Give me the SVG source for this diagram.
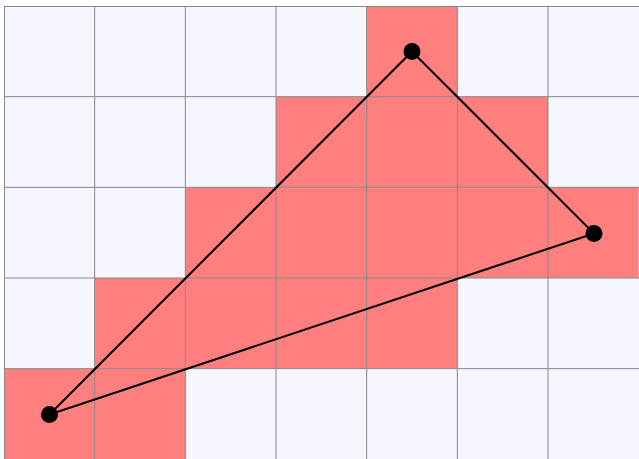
<svg xmlns="http://www.w3.org/2000/svg" width="639" height="459" viewBox="0 0 639 459">
<style>
.bg{fill:#f5f7ff}
.on{fill:#ff7f7f}
.grid{stroke:#888;stroke-width:1;fill:none}
.edge{stroke:#000;stroke-width:2;fill:none}
.pt{fill:#000}
</style>
<rect x="0" y="0" width="639" height="459" fill="#fff"/>
<rect class="bg" x="4" y="6" width="640" height="460"/>
<g id="cells">
<rect class="on" x="366.67" y="6" width="90.67" height="90.67"/>
<rect class="on" x="276" y="96.67" width="272" height="90.67"/>
<rect class="on" x="185.33" y="187.33" width="453.33" height="90.67"/>
<rect class="on" x="94.67" y="278" width="362.67" height="90.67"/>
<rect class="on" x="4" y="368.67" width="181.33" height="90.67"/>
</g>
<g id="grid" class="grid">
<path d="M4.5 6V459M94.67 6V459M185.33 6V459M276 6V459M366.67 6V459M457.33 6V459M548 6V459"/>
<path d="M4 6.5H639M4 96.67H639M4 187.33H639M4 278H639M4 368.67H639"/>
</g>
<g id="connectors">
<path class="edge" d="M412 51.5L594 233.5L49.5 414.5Z"/>
</g>
<g id="node-a"><circle class="pt" cx="412" cy="51.5" r="8.5"/></g>
<g id="node-b"><circle class="pt" cx="594" cy="233.5" r="8.5"/></g>
<g id="node-c"><circle class="pt" cx="49.5" cy="414.5" r="8.5"/></g>
</svg>
